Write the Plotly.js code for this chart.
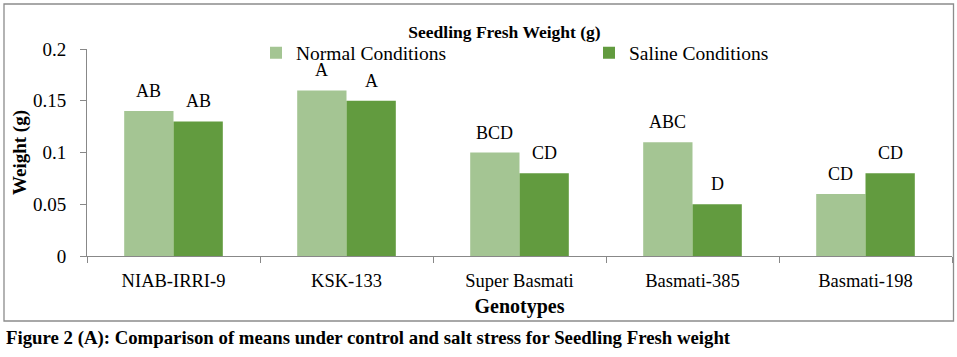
<!DOCTYPE html>
<html>
<head>
<meta charset="utf-8">
<script src="https://cdn.plot.ly/plotly-3.0.1.min.js"></script>
<style>
html,body{margin:0;padding:0;background:#fff;}
#chart{width:957px;height:357px;}
</style>
</head>
<body>
<div id="chart"></div>
<script>
const genotypes = ["NIAB-IRRI-9", "KSK-133", "Super Basmati", "Basmati-385", "Basmati-198"];
const normalValues = [0.14, 0.16, 0.10, 0.11, 0.06];
const salineValues = [0.13, 0.15, 0.08, 0.05, 0.08];
const normalLetters = ["AB", "A", "BCD", "ABC", "CD"];
const salineLetters = ["AB", "A", "CD", "D", "CD"];
const yTickValues = [0, 0.05, 0.1, 0.15, 0.2];
const yTickLabels = ["0", "0.05", "0.1", "0.15", "0.2"];

const serif = "Times New Roman";
const lightGreen = "#A4C593";
const darkGreen = "#629B3F";
const axisGray = "#888888";

const W = 957, H = 357;
const L = 87, R = 5, T = 49, B = 101;
const pw = W - L - R, ph = H - T - B;
const px = v => (v - L) / pw;
const py = v => (H - B - v) / ph;

const traces = [
  {type: "bar", name: "Normal Conditions", x: genotypes, y: normalValues,
   marker: {color: lightGreen}, hoverinfo: "none"},
  {type: "bar", name: "Saline Conditions", x: genotypes, y: salineValues,
   marker: {color: darkGreen}, hoverinfo: "none"}
];

const annotations = [];
genotypes.forEach((g, i) => {
  annotations.push({x: g, y: normalValues[i], xref: "x", yref: "y", text: normalLetters[i],
    showarrow: false, xanchor: "center", yanchor: "bottom", xshift: -24.6, yshift: 8,
    font: {family: serif, size: 18, color: "#000"}});
  annotations.push({x: g, y: salineValues[i], xref: "x", yref: "y", text: salineLetters[i],
    showarrow: false, xanchor: "center", yanchor: "bottom", xshift: 24.6, yshift: 8,
    font: {family: serif, size: 18, color: "#000"}});
});
annotations.push({
  xref: "paper", yref: "paper", x: px(4), y: py(338), xanchor: "left", yanchor: "middle",
  showarrow: false,
  text: "<b>Figure 2 (A): Comparison of means under control and salt stress for Seedling Fresh weight</b>",
  font: {family: serif, size: 18.8, color: "#000"}
});

const layout = {
  width: W, height: H,
  margin: {l: L, r: R, t: T, b: B, pad: 0},
  paper_bgcolor: "#fff", plot_bgcolor: "#fff",
  title: {text: "<b>Seedling Fresh Weight (g)</b>", font: {family: serif, size: 17.5, color: "#000"},
    xref: "paper", x: px(504.5), xanchor: "center", yref: "container", y: 1 - 31.5 / H, yanchor: "middle"},
  barmode: "group", bargap: 0.43, bargroupgap: 0,
  showlegend: true,
  legend: {orientation: "h", x: px(256), xanchor: "left", y: py(53), yanchor: "middle",
    font: {family: serif, size: 19.5, color: "#000"}, entrywidth: 288, entrywidthmode: "pixels",
    bgcolor: "rgba(0,0,0,0)", itemclick: false, traceorder: "normal"},
  xaxis: {type: "category", showline: true, linecolor: axisGray, linewidth: 1,
    ticks: "outside", tickson: "boundaries", ticklen: 6, tickcolor: axisGray,
    showgrid: false, zeroline: false,
    tickfont: {family: serif, size: 18.5, color: "#000"}, ticklabelstandoff: 8,
    title: {text: "<b>Genotypes</b>", font: {family: serif, size: 20, color: "#000"}, standoff: 8}},
  yaxis: {range: [0, 0.2], tickvals: yTickValues, ticktext: yTickLabels,
    showline: true, linecolor: axisGray, linewidth: 1,
    ticks: "outside", ticklen: 6, tickcolor: axisGray, showgrid: false, zeroline: false,
    tickfont: {family: serif, size: 19, color: "#000"}, ticklabelstandoff: 10,
    title: {text: "<b>Weight (g)</b>", font: {family: serif, size: 19, color: "#000"}, standoff: 1}},
  annotations: annotations,
  shapes: [{type: "rect", xref: "paper", yref: "paper", x0: px(4), x1: px(953.5), y0: py(321), y1: py(4),
    line: {color: "#8c8c8c", width: 1.3}, fillcolor: "rgba(0,0,0,0)", layer: "below"}]
};

Plotly.newPlot("chart", traces, layout, {staticPlot: true, displayModeBar: false});
</script>
</body>
</html>
